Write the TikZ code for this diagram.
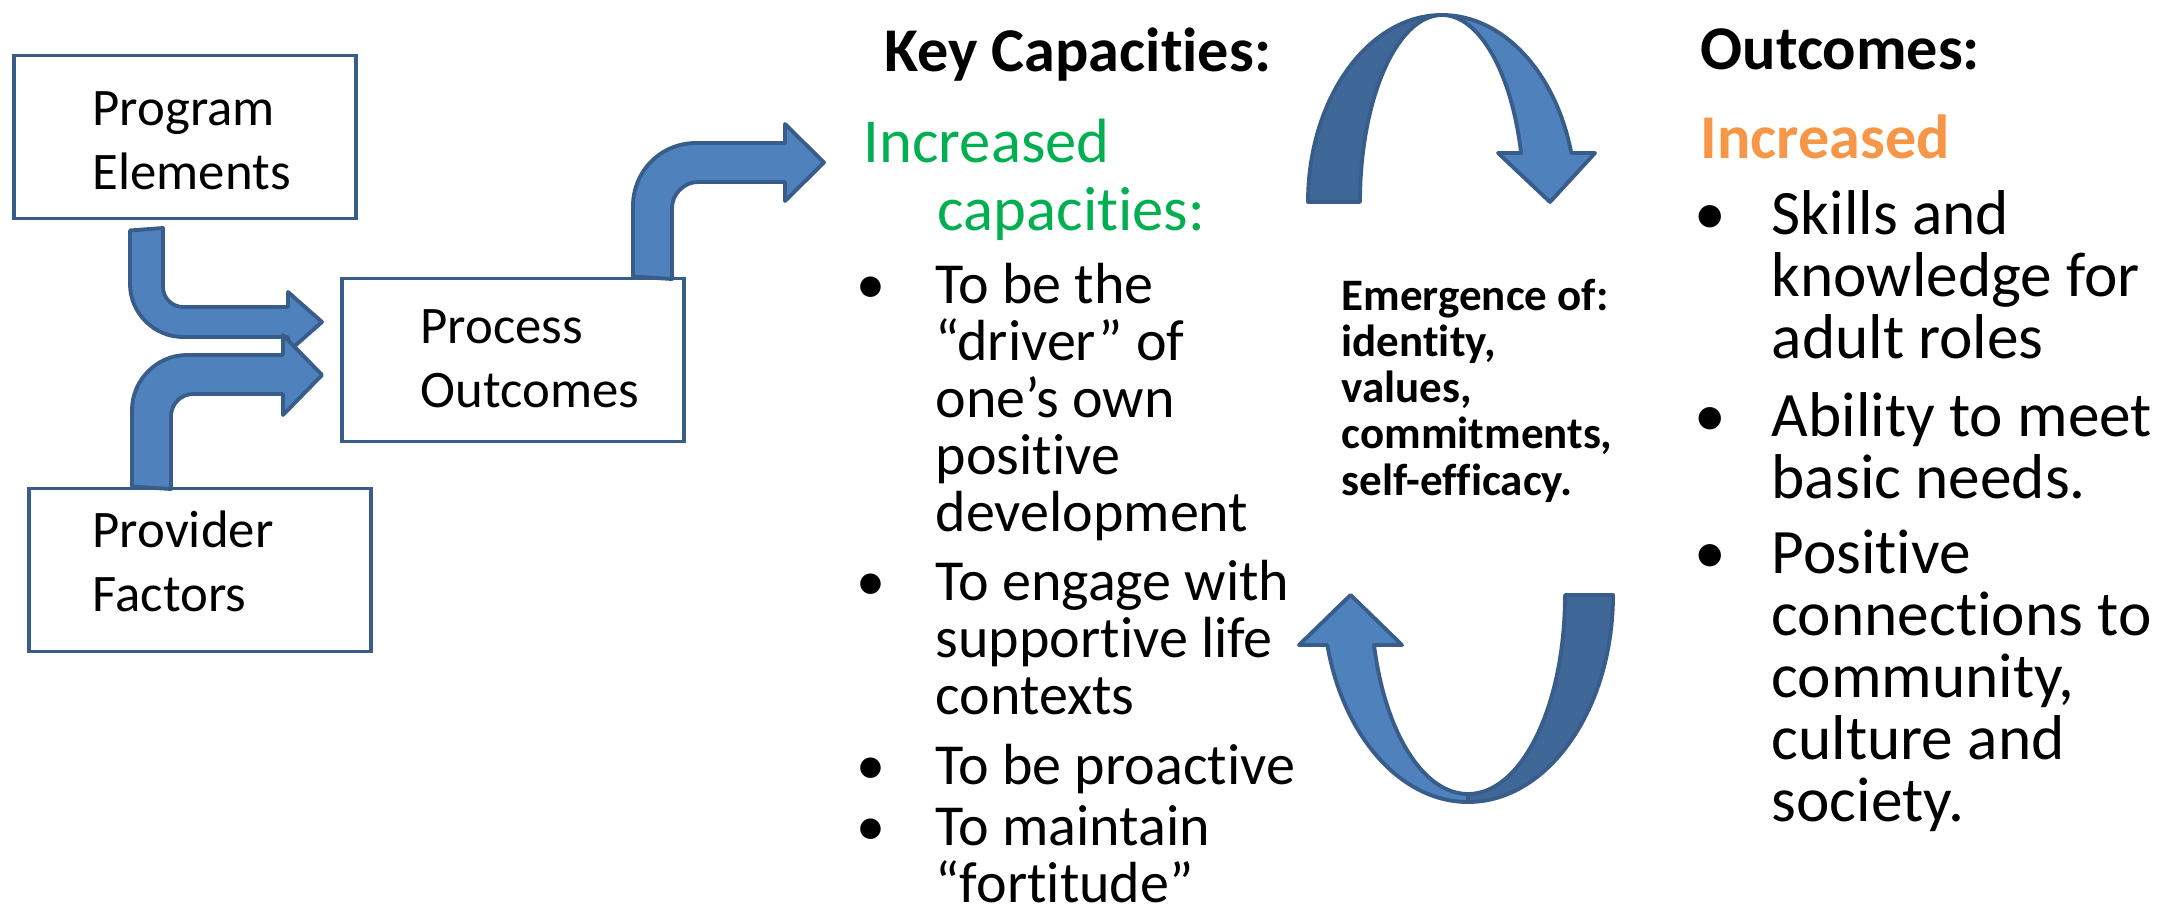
\documentclass[tikz,border=0pt]{standalone}
\usepackage{fontspec}
\setmainfont{Carlito}[Ligatures={NoCommon,NoContextual}, Contextuals=NoAlternate]

\definecolor{boxline}{HTML}{385D8A}
\definecolor{arrowfill}{HTML}{4F81BD}
\definecolor{arrowback}{HTML}{3F6797}
\definecolor{capgreen}{HTML}{00B050}
\definecolor{outorange}{HTML}{F79646}

% multi-line nodes below sit on the baseline of their last line
\tikzset{
  box/.style={draw=boxline, line width=1.1pt, fill=white,
    minimum width=3.41cm, minimum height=1.63cm},
  boxtext/.style={anchor=base west, inner sep=0pt, align=left,
    font=\fontsize{15}{18.1}\selectfont},
  blockarrow/.style={draw=boxline, line width=1.1pt, line join=round, fill=arrowfill},
  backarrow/.style={blockarrow, fill=arrowback},
  heading/.style={anchor=base west, inner sep=0pt, font=\bfseries\fontsize{17.7}{21}\selectfont},
  capitem/.style={anchor=base west, inner sep=0pt, align=left,
    font=\fontsize{16.5}{16.2}\selectfont},
  capdot/.style={anchor=base, inner sep=0pt, font=\fontsize{16.5}{16.2}\selectfont},
  outitem/.style={anchor=base west, inner sep=0pt, align=left,
    font=\fontsize{18}{17.6}\selectfont},
  outdot/.style={anchor=base, inner sep=0pt, font=\fontsize{18}{17.6}\selectfont},
}

\begin{document}
\begin{tikzpicture}[x=0.01cm, y=-0.01cm]
  \useasboundingbox (0,0) rectangle (2175,912);

  % Boxes on the left
  \node[box] (pe) at (185,137) {};
  \node[box] (po) at (513,360) {};
  \node[box] (pf) at (200,570) {};
  \node[boxtext] (pe-txt) at (92,189) {Program\\Elements};
  \node[boxtext] (po-txt) at (420,407) {Process\\Outcomes};
  \node[boxtext] (pf-txt) at (92,611) {Provider\\Factors};

  % Bent arrows into and out of the process box
  \draw[blockarrow] ([yshift=-1mm]pe.south -| 130,0) -- (163,228) -- (163,287)
    .. controls (163,298) and (172,307) .. (183,307) -- (288,307) -- (288,292)
    -- (322,322) -- (288,352) -- (288,337) -- (183,337)
    .. controls (154,337) and (130,313) .. (130,284) -- cycle;
  \draw[blockarrow] (pf.north -| 132,0) -- (132,410)
    .. controls (132,380) and (157,355) .. (187,355) -- (283,355) -- (283,335)
    -- (322,375) -- (283,415) -- (283,394) -- (193,394)
    .. controls (181,394) and (171,404) .. (171,416) -- (171,489) -- cycle;
  \draw[blockarrow] (po.north -| 633,0) -- (633,206)
    .. controls (633,171) and (661,143) .. (696,143) -- (785,143) -- (785,124)
    -- (824,162.5) -- (785,201) -- (785,182) -- (698,182)
    .. controls (684,182) and (672,194) .. (672,208) -- (672,279) -- cycle;

  % Key capacities
  \node[heading] (keycap) at (884,71) {Key Capacities:};
  \node[anchor=base west, inner sep=0pt, align=left, text=capgreen,
    font=\fontsize{17.8}{19.3}\selectfont] (kc-head) at (863,230)
    {Increased\\\hspace*{0.74cm}capacities:};
  \node[capdot] (c1-dot) at (871,303) {\textbullet};
  \node[capitem] (c1) at (935,531) {To be the\\“driver” of\\one’s own\\positive\\development};
  \node[capdot] (c2-dot) at (871,600) {\textbullet};
  \node[capitem] (c2) at (935,714) {To engage with\\supportive life\\contexts};
  \node[capdot] (c3-dot) at (871,784) {\textbullet};
  \node[capitem] (c3) at (935,784) {To be proactive};
  \node[capdot] (c4-dot) at (871,845) {\textbullet};
  \node[capitem] (c4) at (935,902) {To maintain\\“fortitude”};

  % Cycle arrows around the middle text
  \draw[backarrow] (1308,202) .. controls (1308,99) and (1368,15) .. (1442,15)
    .. controls (1397,15) and (1360,99) .. (1360,202) -- cycle;
  \draw[blockarrow] (1442,15) .. controls (1502.5,15) and (1555.5,71.6) .. (1571.3,153)
    -- (1595,153) -- (1550,202) -- (1498,153) -- (1521.1,153)
    .. controls (1511.4,71.6) and (1479,15) .. (1442,15) -- cycle;
  \draw[backarrow] (1613,595) .. controls (1613,709) and (1548,802) .. (1468,802)
    -- (1468,794) .. controls (1522,794) and (1565,705) .. (1565,595) -- cycle;
  \draw[blockarrow] (1468,802) .. controls (1401.4,802) and (1343.4,737.2) .. (1327.3,645)
    -- (1299,645) -- (1350.6,595) -- (1402,645) -- (1374,645)
    .. controls (1385.3,733.4) and (1423.5,794) .. (1468,794) -- cycle;

  \node[anchor=base west, inner sep=0pt, align=left,
    font=\bfseries\fontsize{12.8}{13.1}\selectfont] (emerge) at (1341,495)
    {Emergence of:\\identity,\\values,\\commitments,\\self-efficacy.};

  % Outcomes
  \node[heading] (outc) at (1700,70) {Outcomes:};
  \node[heading, text=outorange] (oc-head) at (1700,158) {Increased};
  \node[outdot] (o1-dot) at (1710,234) {\textbullet};
  \node[outitem] (o1) at (1771,358) {Skills and\\knowledge for\\adult roles};
  \node[outdot] (o2-dot) at (1710,436) {\textbullet};
  \node[outitem] (o2) at (1771,498) {Ability to meet\\basic needs.};
  \node[outdot] (o3-dot) at (1710,573) {\textbullet};
  \node[outitem] (o3) at (1771,821) {Positive\\connections to\\community,\\culture and\\society.};

\end{tikzpicture}
\end{document}
